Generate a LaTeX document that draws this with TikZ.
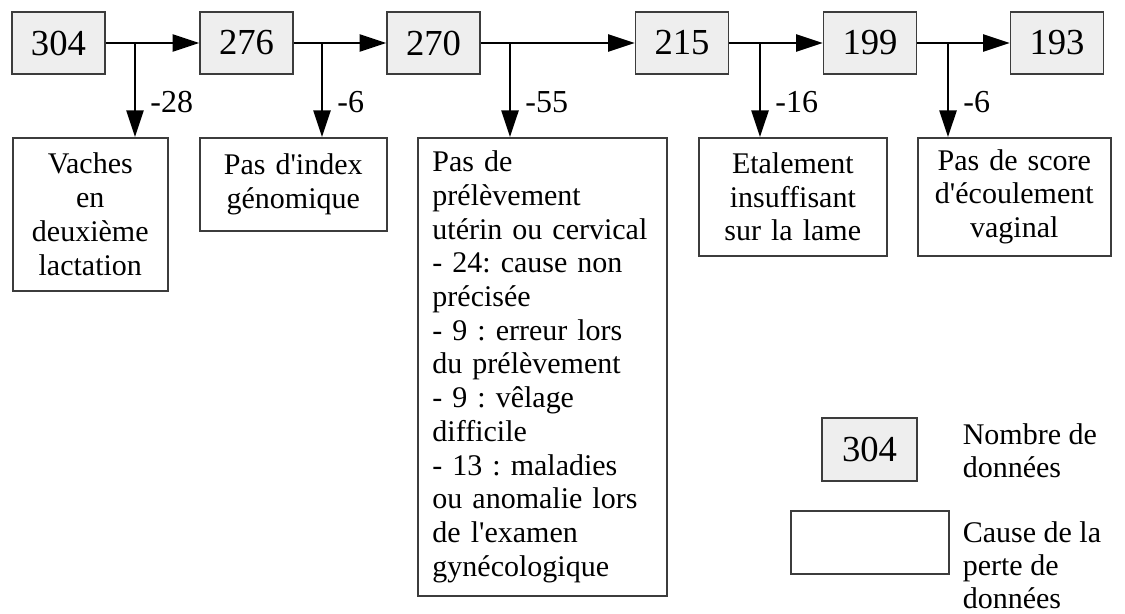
\documentclass[tikz,border=0pt]{standalone}
\usepackage{fontspec}
\setmainfont{Liberation Serif}[Ligatures=TeXOff]
\usepackage{tikz}
\usetikzlibrary{arrows.meta}
\definecolor{boxgray}{RGB}{238,238,238}
\definecolor{boxline}{RGB}{60,60,60}
\hyphenpenalty=10000
\frenchspacing

\begin{document}
\begin{tikzpicture}[x=0.75pt,y=-0.75pt,line width=1.2pt,
        >={Triangle[length=20pt,width=13pt]},
        count/.style={draw=boxline,fill=boxgray,minimum width=69.75pt,minimum height=46.5pt,inner sep=0pt,font=\fontsize{27.5pt}{32pt}\selectfont},
        cause/.style={draw=boxline,anchor=north west,align=center,inner xsep=6pt,inner ysep=2pt,font=\fontsize{22.5pt}{25.3pt}\selectfont},
        loss/.style={inner sep=0pt,font=\fontsize{24pt}{28pt}\selectfont},
        legend/.style={anchor=north west,align=left,inner sep=0pt,font=\fontsize{22.5pt}{24.6pt}\selectfont}]

        \useasboundingbox (0,0) rectangle (1125,614);

        \node[count] (N304) at (58.5,43) {304};
        \node[count] (N276) at (246.5,43) {276};
        \node[count] (N270) at (433.5,43) {270};
        \node[count] (N215) at (682,43) {215};
        \node[count] (N199) at (870,43) {199};
        \node[count] (N193) at (1057,43) {193};

        \coordinate (B1) at (135,43);
        \coordinate (B2) at (322,43);
        \coordinate (B3) at (510,43);
        \coordinate (B4) at (760,43);
        \coordinate (B5) at (948,43);

        \node[cause,text width=104.25pt,minimum height=114.75pt] (C1) at (12,137) {Vaches\\en\\deuxième\\lactation};
        \node[cause,text width=128.25pt,minimum height=69.75pt] (C2) at (199,137) {Pas d'index\\génomique};
        \node[cause,align=left,inner xsep=11pt,text width=165pt,minimum height=343.5pt] (C3) at (417,137) {Pas de\\prélèvement\\utérin ou cervical\\- 24: cause non\\précisée\\- 9 : erreur lors\\du prélèvement\\- 9 : vêlage\\difficile\\- 13 : maladies\\ou anomalie lors\\de l'examen\\gynécologique};
        \node[cause,text width=129pt,minimum height=88.5pt] (C4) at (698,137) {Etalement\\insuffisant\\sur la lame};
        \node[cause,text width=132.75pt,minimum height=88.5pt] (C5) at (917,137) {Pas de score\\d'écoulement\\vaginal};

        \draw[->] (N304) -- (N276);
        \draw[->] (N276) -- (N270);
        \draw[->] (N270) -- (N215);
        \draw[->] (N215) -- (N199);
        \draw[->] (N199) -- (N193);
        \draw[->] (B1) -- (B1 |- C1.north) node[loss,pos=0.63,right=11pt]{-28};
        \draw[->] (B2) -- (B2 |- C2.north) node[loss,pos=0.63,right=11pt]{-6};
        \draw[->] (B3) -- (B3 |- C3.north) node[loss,pos=0.63,right=11pt]{-55};
        \draw[->] (B4) -- (B4 |- C4.north) node[loss,pos=0.63,right=11pt]{-16};
        \draw[->] (B5) -- (B5 |- C5.north) node[loss,pos=0.63,right=11pt]{-6};

        \node[count,minimum width=71.25pt,minimum height=47.25pt] (K1) at (869.5,449.5) {304};
        \node[draw=boxline,minimum width=118.5pt,minimum height=47.25pt] (K2) at (870,542.5) {};
        \node[legend] (T1) at (962,423) {Nombre de\\données};
        \node[legend] (T2) at (962,521) {Cause de la\\perte de\\données};
      \end{tikzpicture}
\end{document}
